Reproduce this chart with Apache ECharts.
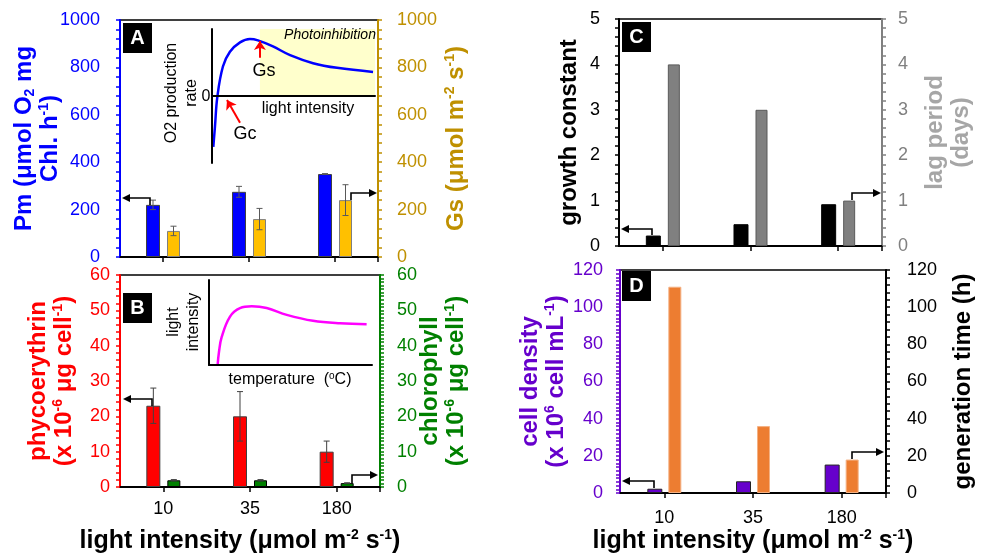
<!DOCTYPE html>
<html><head><meta charset="utf-8">
<script src="https://cdn.jsdelivr.net/npm/echarts@6/dist/echarts.min.js"></script>
<style>html,body{margin:0;padding:0;background:#fff}#c{width:987px;height:555px}</style>
</head><body><div id="c"></div>
<script>
// ---------- data ----------
const categories = ['10', '35', '180'];
// Panel A
const pmValues = [220, 275, 350];
const pmErrors = [20, 23, 2];
const gsValues = [110, 160, 240];
const gsErrors = [20, 45, 65];
// Panel B
const phycoValues = [23, 20, 10];
const phycoErrors = [5, 7, 3];
const chlValues = [1.9, 1.9, 1.1];
const chlErrors = [0.2, 0.2, 0.1];
// Panel C
const growthValues = [0.23, 0.48, 0.92];
const lagValues = [4, 3, 1];
// Panel D
const densityValues = [2.3, 6.3, 15.3];
const genTimeValues = [111, 36, 18];
// Inset A (schematic O2 production vs light intensity)
const insetAX = [0.8, 1.8, 3.3, 6.7, 11, 17.2, 23.3, 28.2, 37.4, 47.9, 62, 76.7, 98.8];
const insetAY = [-0.76, -0.46, -0.01, 0.44, 0.66, 0.80, 0.85, 0.83, 0.74, 0.61, 0.49, 0.42, 0.36];
const photoStart = 29.4;
const gsArrow = [[29.4, 0.57], [29.4, 0.82]];
const gcArrow = [[17.2, -0.40], [9.2, -0.06]];
// Inset B (schematic light intensity vs temperature)
const insetBX = [5.3, 6.1, 7.8, 12.9, 19, 26.2, 35.4, 47.7, 63.8, 80.4, 96.7];
const insetBY = [0, 0.15, 0.33, 0.57, 0.67, 0.69, 0.67, 0.59, 0.52, 0.49, 0.48];
// axis ranges [max, interval, minorSplit]
const axA1 = [1000, 200, 5], axA2 = [1000, 200, 5];
const axB1 = [60, 10, 5], axB2 = [60, 10, 10];
const axC1 = [5, 1, 5], axC2 = [5, 1, 5];
const axD1 = [120, 20, 10], axD2 = [120, 20, 5];

// ---------- styles ----------
const FONT = '"Liberation Sans", Arial, Helvetica, sans-serif';
const BLUE = '#0000FF', GOLD = '#BF9000', RED = '#FF0000', GREEN = '#008000',
      GRAY = '#808080', LGRAY = '#A6A6A6', PURPLE = '#6600CC', BLACK = '#000';

function nameStyle(color, size) {
  size = size || 24;
  const sub = {color, fontSize: 14, fontWeight: 'bold', fontFamily: FONT, lineHeight: 14};
  return {
    color, fontSize: size, fontWeight: 'bold', fontFamily: FONT, lineHeight: 26,
    rich: {
      sp: Object.assign({verticalAlign: 'top'}, sub),
      sb: Object.assign({verticalAlign: 'bottom'}, sub)
    }
  };
}

function yAx(grid, pos, color, ax, margin, name, nameGap, nameColor) {
  return {
    gridIndex: grid, type: 'value', position: pos, min: 0, max: ax[0], interval: ax[1],
    axisLine: {show: true, onZero: false, lineStyle: {color, width: 2}},
    axisTick: {show: true, inside: false, length: 4, lineStyle: {color, width: 1.5}},
    minorTick: {show: true, splitNumber: ax[2], length: 4, lineStyle: {color, width: 1.5}},
    splitLine: {show: false}, minorSplitLine: {show: false},
    axisLabel: {color, fontSize: 18, fontFamily: FONT, margin, formatter: v => String(v)},
    name, nameLocation: 'middle', nameRotate: 90, nameGap, nameMoveOverlap: false,
    nameTextStyle: nameStyle(nameColor || color)
  };
}

const xName = 'light intensity (μmol m{sp|-2} s{sp|-1})';
function xAx(grid, showLabel, margin, nameGap, pad) {
  return {
    gridIndex: grid, type: 'category', data: categories,
    axisLine: {show: true, lineStyle: {color: BLACK, width: 2}},
    axisTick: {show: true, alignWithLabel: true, length: 5, lineStyle: {color: BLACK, width: 1.5}},
    axisLabel: {show: showLabel, color: BLACK, fontSize: 18, fontFamily: FONT, margin: margin || 8},
    splitLine: {show: false},
    name: showLabel ? xName : '', nameLocation: 'middle', nameGap: nameGap || 0, nameMoveOverlap: false,
    nameTextStyle: Object.assign(nameStyle(BLACK, 25), {padding: pad || 0})
  };
}

function errSeries(xi, yi, vals, errs, offset, color) {
  return {
    type: 'custom', xAxisIndex: xi, yAxisIndex: yi, z: 4, silent: true,
    data: vals.map((v, i) => [i, v, errs[i]]),
    renderItem: function (params, api) {
      const x = api.value(0), v = api.value(1), e = api.value(2);
      const hi = api.coord([x, v + e]), lo = api.coord([x, v - e]);
      const cx = hi[0] + offset, c = 3;
      const st = {stroke: color, lineWidth: 1};
      return {type: 'group', children: [
        {type: 'line', shape: {x1: cx, y1: hi[1], x2: cx, y2: lo[1]}, style: st},
        {type: 'line', shape: {x1: cx - c, y1: hi[1], x2: cx + c, y2: hi[1]}, style: st},
        {type: 'line', shape: {x1: cx - c, y1: lo[1], x2: cx + c, y2: lo[1]}, style: st}
      ]};
    }
  };
}

function bar(xi, yi, data, w, color, border, gap) {
  return {type: 'bar', xAxisIndex: xi, yAxisIndex: yi, data, barWidth: w, barGap: gap,
    itemStyle: {color, borderColor: border, borderWidth: 1}, silent: true};
}

function insetAxis(grid, min, max, isX) {
  return {
    gridIndex: grid, type: 'value', min, max, z: 10,
    axisLine: {show: true, onZero: isX, lineStyle: {color: BLACK, width: 2}},
    axisTick: {show: false}, axisLabel: {show: false}, splitLine: {show: false}
  };
}

// ---------- annotations ----------
function arrow(points, dir) {
  const tip = points[points.length - 1];
  const s = dir === 'left' ? 1 : -1;
  const pts = points.slice(0, -1).concat([[tip[0] + s * 6, tip[1]]]);
  return [
    {type: 'polyline', z: 100, shape: {points: pts}, style: {stroke: BLACK, lineWidth: 1.6, fill: null}},
    {type: 'polygon', z: 100, shape: {points: [[tip[0], tip[1]], [tip[0] + s * 8, tip[1] - 4], [tip[0] + s * 8, tip[1] + 4]]},
      style: {fill: BLACK}}
  ];
}
function panelLabel(x, y, letter) {
  return [
    {type: 'rect', z: 100, shape: {x, y, width: 29, height: 30}, style: {fill: BLACK}},
    {type: 'text', z: 101, x: x + 14.5, y: y + 15.5, style: {text: letter, fill: '#fff', font: 'bold 20px ' + FONT, align: 'center', verticalAlign: 'middle'}}
  ];
}
function txt(x, y, text, font, rot, extra) {
  return {type: 'text', z: 100, x, y, rotation: rot || 0,
    style: Object.assign({text, fill: BLACK, font: font || ('16px ' + FONT), align: 'center', verticalAlign: 'middle'}, extra || {})};
}
// end-of-axis tick marks on the category axes
function endTick(x, y) {
  return {type: 'line', z: 100, shape: {x1: x, y1: y, x2: x, y2: y + 5}, style: {stroke: BLACK, lineWidth: 1.5}};
}

const graphics = [].concat(
  panelLabel(123, 23, 'A'), panelLabel(123, 293, 'B'), panelLabel(622, 22, 'C'), panelLabel(622, 271, 'D'),
  arrow([[150, 205], [150, 198], [122, 198]], 'left'),
  arrow([[351, 200], [351, 193], [377, 193]], 'right'),
  arrow([[152, 406], [152, 399], [123, 399]], 'left'),
  arrow([[352, 483], [352, 475], [378, 475]], 'right'),
  arrow([[652, 235], [652, 229], [621, 229]], 'left'),
  arrow([[852, 200], [852, 193], [881, 193]], 'right'),
  arrow([[654, 488], [654, 481], [622, 481]], 'left'),
  arrow([[852, 459], [852, 452], [884, 452]], 'right'),
  [
    endTick(378, 257), endTick(380, 487), endTick(882, 246), endTick(886, 493),
    txt(330, 35, 'Photoinhibition', 'italic 14px ' + FONT),
    txt(264, 71, 'Gs', '18px ' + FONT),
    txt(245, 134, 'Gc', '18px ' + FONT),
    txt(308, 109, 'light intensity', '16px ' + FONT),
    txt(206, 97, '0', '16px ' + FONT),
    txt(182, 93, 'O2 production\nrate', '16px ' + FONT, Math.PI / 2, {lineHeight: 20}),
    txt(184, 322, 'light\nintensity', '16px ' + FONT, Math.PI / 2, {lineHeight: 20}),
    txt(290, 380, 'temperature  ({s|o}C)', '16px ' + FONT, 0,
      {rich: {s: {fontSize: 10, fontFamily: FONT, fill: BLACK, verticalAlign: 'top', lineHeight: 10}}, lineHeight: 18})
  ]
);

const gridBase = {show: true, borderColor: BLACK, borderWidth: 1.5, containLabel: false};
const option = {
  animation: false,
  backgroundColor: '#fff',
  grid: [
    Object.assign({left: 120, top: 20, width: 258, height: 237}, gridBase),
    Object.assign({left: 120, top: 275, width: 260, height: 212}, gridBase),
    Object.assign({left: 619, top: 19, width: 263, height: 227}, gridBase),
    Object.assign({left: 620, top: 270, width: 266, height: 223}, gridBase),
    {left: 212, top: 29, width: 163, height: 134, show: false},
    {left: 209, top: 280, width: 163, height: 85, show: false}
  ],
  xAxis: [
    xAx(0, false), xAx(1, true, 13, 41, [0, 20, 0, 0]), xAx(2, false), xAx(3, true, 16, 35),
    insetAxis(4, 0, 100, true), insetAxis(5, 0, 100, true)
  ],
  yAxis: [
    yAx(0, 'left', BLUE, axA1, 20, 'Pm (μmol O{sb|2} mg\nChl. h{sp|-1})', 57),
    yAx(0, 'right', GOLD, axA2, 19, 'Gs (μmol m{sp|-2} s{sp|-1})', 65),
    yAx(1, 'left', RED, axB1, 10, 'phycoerythrin\n(x 10{sp|-6} μg cell{sp|-1})', 43),
    yAx(1, 'right', GREEN, axB2, 17, 'chlorophyll\n(x 10{sp|-6} μg cell{sp|-1})', 37),
    yAx(2, 'left', BLACK, axC1, 19, 'growth constant', 37),
    yAx(2, 'right', GRAY, axC2, 16, 'lag period\n(days)', 40, LGRAY),
    yAx(3, 'left', PURPLE, axD1, 17, 'cell density\n(x 10{sp|6} cell mL{sp|-1})', 51),
    yAx(3, 'right', BLACK, axD2, 21, 'generation time (h)', 64),
    insetAxis(4, -1, 1, false), insetAxis(5, 0, 1, false)
  ],
  series: [
    bar(0, 0, pmValues, 14, BLUE, '#404040', '50%'),
    bar(0, 1, gsValues, 13, '#FFC000', '#7F7F7F', '50%'),
    errSeries(0, 0, pmValues, pmErrors, -10, '#595959'),
    errSeries(0, 1, gsValues, gsErrors, 10.5, '#595959'),
    bar(1, 2, phycoValues, 14, RED, '#404040', '50%'),
    bar(1, 3, chlValues, 13, GREEN, BLACK, '50%'),
    errSeries(1, 2, phycoValues, phycoErrors, -10, '#404040'),
    errSeries(1, 3, chlValues, chlErrors, 10.5, '#404040'),
    bar(2, 4, growthValues, 15, BLACK, BLACK, '46.7%'),
    bar(2, 5, lagValues, 12, GRAY, '#595959', '46.7%'),
    bar(3, 6, densityValues, 15, PURPLE, '#222', '40%'),
    bar(3, 7, genTimeValues, 13, '#ED7D31', '#F4B183', '40%'),
    {
      type: 'line', xAxisIndex: 4, yAxisIndex: 8, smooth: 0.4, symbol: 'none', silent: true,
      data: insetAX.map((x, i) => [x, insetAY[i]]),
      lineStyle: {color: BLUE, width: 2.5},
      markArea: {silent: true, itemStyle: {color: '#FFFFCC'},
        data: [[{coord: [photoStart, 0]}, {coord: [100, 1]}]]},
      markLine: {silent: true, symbol: ['none', 'arrow'], symbolSize: [9, 9], label: {show: false},
        lineStyle: {color: RED, width: 2, type: 'solid'},
        data: [[{coord: gsArrow[0]}, {coord: gsArrow[1]}], [{coord: gcArrow[0]}, {coord: gcArrow[1]}]]}
    },
    {
      type: 'line', xAxisIndex: 5, yAxisIndex: 9, smooth: 0.4, symbol: 'none', silent: true,
      data: insetBX.map((x, i) => [x, insetBY[i]]),
      lineStyle: {color: '#FF00FF', width: 2.5}
    }
  ],
  graphic: graphics
};

const chart = echarts.init(document.getElementById('c'), null, {renderer: 'canvas'});
chart.setOption(option);
</script>
</body></html>
